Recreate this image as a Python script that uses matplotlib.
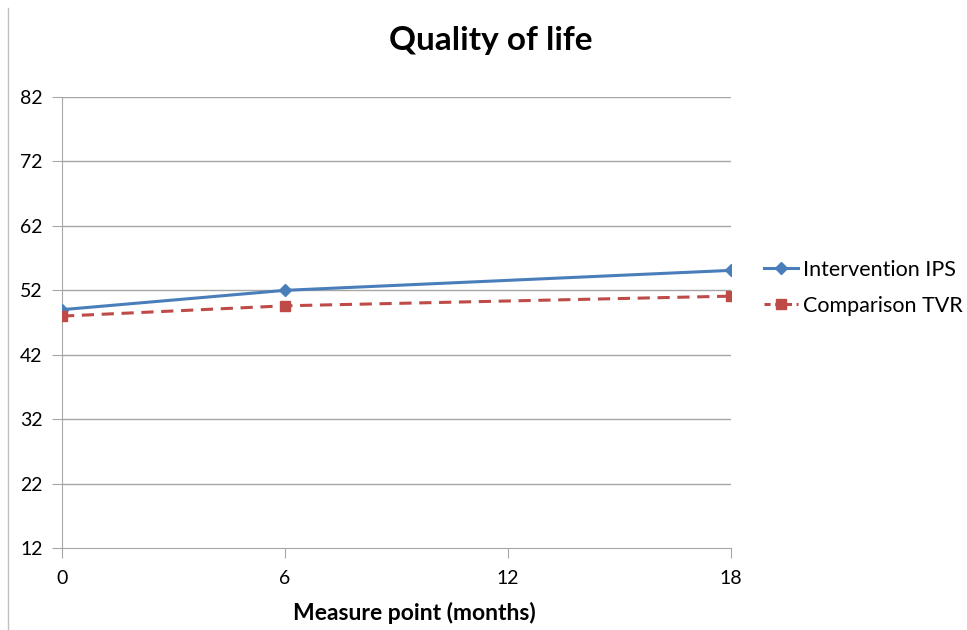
import matplotlib
matplotlib.use('Agg')
import matplotlib.pyplot as plt
from matplotlib.lines import Line2D

plt.rcParams['font.family'] = ['Lato', 'DejaVu Sans']

months = [0, 6, 18]
intervention_ips = [49.0, 52.0, 55.1]
comparison_tvr = [48.0, 49.6, 51.1]
y_ticks = [12, 22, 32, 42, 52, 62, 72, 82]
x_ticks = [0, 6, 12, 18]

fig = plt.figure(figsize=(9.67, 6.3), dpi=100)
ax = fig.add_axes([0.0641, 0.130, 0.6918, 0.716])

grid_col = '#a6a6a6'
for yv in y_ticks[1:]:
    ax.axhline(yv, color=grid_col, lw=1, zorder=0)

ax.plot(months, intervention_ips, color='#4a7ebb', lw=2.2, marker='D', ms=6,
        label='Intervention IPS', zorder=3)
ax.plot(months, comparison_tvr, color='#be4b48', lw=2.2, ls=(0, (4, 2.5)), marker='s', ms=7.5,
        label='Comparison TVR', zorder=3)

ax.set_xlim(0, 18)
ax.set_ylim(12, 82)
ax.set_xticks(x_ticks)
ax.set_yticks(y_ticks)
ax.tick_params(axis='y', length=7, color=grid_col, labelsize=14, pad=7, direction='out')
ax.tick_params(axis='x', length=7, color=grid_col, labelsize=14, pad=9, direction='out')
for s in ['top', 'right']:
    ax.spines[s].set_visible(False)
ax.spines['left'].set_color(grid_col)
ax.spines['bottom'].set_color(grid_col)

fig.text(0.507, 0.935, 'Quality of life', fontsize=24, fontweight='bold',
         ha='center', va='center')
fig.text(0.429, 0.027, 'Measure point (months)', fontsize=16.5, fontweight='bold',
         ha='center', va='center')

handles = [
    Line2D([0], [0], color='#4a7ebb', lw=2.2, marker='D', ms=6),
    Line2D([0], [0], color='#be4b48', lw=2.2, ls=(0, (2, 1.5)), marker='s', ms=7.5),
]
fig.legend(handles, ['Intervention IPS', 'Comparison TVR'], loc='center left',
           bbox_to_anchor=(0.770, 0.543), frameon=False, fontsize=15.5,
           handlelength=1.6, handletextpad=0.2, labelspacing=0.75)

fig.add_artist(Line2D([0.008, 0.008], [0.0, 0.987], color='#c0c0c0', lw=1))

fig.savefig('out.png', dpi=100)
